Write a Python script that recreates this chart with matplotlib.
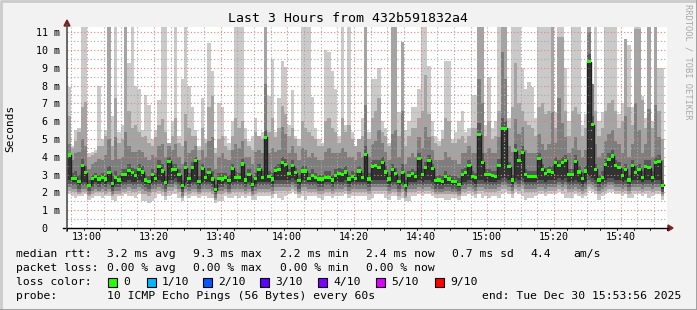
import numpy as np
import pandas as pd
import matplotlib
matplotlib.use("Agg")
import matplotlib.pyplot as plt
import matplotlib.dates as mdates
from matplotlib.ticker import MultipleLocator
from matplotlib.patches import Rectangle, Polygon

plt.rcParams['font.family'] = ['DejaVu Sans Mono', 'DejaVu Sans']

# time window (one column per minute)
first_step = "2025-12-30 12:54"
view_start = "2025-12-30 12:53:56"
view_end = "2025-12-30 15:53:56"

# median rtt in ms, one value per minute
median = [4.1, 2.8, 2.8, 2.6, 3.5, 3.1, 2.4, 2.8, 2.9, 2.75,
          2.85, 2.75, 3.1, 2.5, 2.85, 2.7, 3.0, 3.0, 3.25, 3.1,
          2.95, 3.3, 3.15, 2.7, 2.6, 3.0, 2.8, 3.45, 3.2, 2.55,
          3.75, 3.3, 3.3, 3.0, 2.4, 3.4, 2.8, 3.4, 3.8, 2.6,
          3.35, 2.85, 3.1, 2.75, 2.15, 2.8, 2.75, 2.85, 2.65, 3.35,
          2.85, 2.85, 3.6, 2.7, 3.0, 2.45, 2.8, 3.3, 2.85, 5.1,
          2.9, 2.75, 3.25, 3.3, 3.7, 3.55, 3.05, 3.5, 3.1, 2.65,
          3.2, 3.2, 2.8, 2.95, 2.85, 2.75, 2.75, 2.85, 2.85, 2.7,
          2.95, 3.05, 3.0, 3.15, 2.75, 2.9, 2.8, 3.2, 2.85, 4.15,
          2.75, 3.45, 3.5, 3.4, 3.7, 3.15, 2.75, 3.3, 3.05, 2.6,
          3.1, 2.4, 2.95, 3.05, 2.9, 3.9, 3.0, 3.4, 3.8, 3.35,
          2.65, 2.7, 2.6, 2.9, 2.75, 2.6, 2.6, 2.45, 3.0, 3.1,
          3.5, 2.9, 2.85, 5.25, 3.7, 3.0, 3.0, 2.95, 2.9, 3.5,
          5.6, 5.6, 3.45, 2.7, 4.35, 3.8, 4.25, 3.0, 2.9, 2.9,
          2.9, 3.9, 3.3, 3.05, 3.2, 3.1, 3.7, 3.5, 3.7, 3.8,
          3.0, 3.0, 3.75, 3.15, 2.8, 3.2, 9.35, 5.8, 3.3, 2.7,
          2.85, 3.55, 3.85, 4.05, 3.5, 3.4, 2.95, 3.3, 2.7, 3.5,
          3.1, 3.3, 2.85, 3.45, 3.4, 2.85, 3.7, 3.75, 2.4]

# sorted ping rtts (ms): ping1 = fastest ... ping10 = slowest
ping1 = [1.9, 1.8, 1.7, 1.8, 1.8, 1.9, 1.6, 1.7, 1.8, 1.8,
         1.7, 1.8, 1.8, 1.6, 1.5, 1.8, 1.8, 1.9, 1.8, 1.8,
         1.7, 1.9, 1.5, 1.5, 1.4, 1.5, 1.7, 1.9, 1.8, 1.6,
         1.8, 1.9, 1.9, 1.7, 1.5, 1.8, 1.7, 1.8, 1.8, 1.7,
         1.8, 1.8, 1.7, 1.7, 1.4, 1.5, 1.5, 1.8, 1.7, 1.7,
         1.8, 1.7, 1.8, 1.7, 1.8, 1.6, 1.6, 1.8, 1.8, 1.8,
         1.8, 1.7, 1.9, 1.7, 1.6, 1.8, 1.9, 2.0, 1.9, 1.7,
         1.8, 1.6, 1.8, 1.8, 1.8, 1.7, 1.6, 1.8, 1.8, 1.7,
         1.8, 1.8, 1.8, 1.9, 1.7, 1.8, 1.8, 1.8, 1.8, 1.8,
         1.6, 1.7, 1.9, 1.9, 1.9, 1.7, 1.6, 1.8, 1.8, 1.6,
         1.7, 1.5, 1.5, 1.8, 1.8, 1.9, 1.8, 1.9, 1.9, 1.8,
         1.7, 1.7, 1.7, 1.6, 1.6, 1.7, 1.7, 1.6, 1.8, 1.8,
         1.9, 1.8, 1.7, 1.9, 1.7, 1.8, 1.7, 1.8, 1.8, 1.7,
         1.9, 2.0, 1.9, 1.7, 2.0, 1.9, 1.8, 1.6, 1.7, 1.7,
         1.8, 1.9, 1.9, 1.8, 1.9, 1.9, 1.9, 2.0, 1.9, 1.7,
         1.7, 1.7, 1.9, 1.8, 1.7, 1.8, 2.1, 2.0, 1.9, 1.6,
         1.8, 1.9, 2.0, 2.0, 1.9, 1.9, 1.8, 1.9, 1.7, 1.7,
         1.9, 1.9, 1.8, 1.9, 1.7, 1.8, 1.9, 1.9, 1.6]
ping2 = [2.1, 2.0, 2.0, 1.9, 2.0, 2.0, 1.8, 1.9, 2.0, 2.0,
         2.0, 1.9, 2.0, 1.8, 1.9, 1.9, 2.0, 2.0, 2.1, 2.0,
         2.0, 2.1, 1.9, 1.9, 1.8, 2.0, 2.0, 2.1, 2.0, 1.8,
         2.1, 2.1, 2.2, 2.0, 1.7, 2.0, 1.9, 2.0, 2.0, 1.9,
         2.0, 2.0, 2.0, 1.9, 1.6, 1.9, 1.9, 2.0, 1.9, 2.0,
         2.0, 2.0, 2.0, 1.9, 2.0, 1.8, 1.9, 2.0, 2.0, 2.0,
         2.0, 1.9, 2.1, 2.1, 2.1, 2.1, 2.1, 2.2, 2.1, 1.9,
         2.1, 2.1, 2.0, 2.0, 2.0, 1.9, 1.9, 2.0, 2.0, 1.9,
         2.0, 2.0, 2.0, 2.1, 1.9, 2.0, 2.0, 2.0, 2.0, 2.0,
         1.9, 2.1, 2.1, 2.1, 2.1, 2.1, 1.9, 2.0, 2.0, 1.8,
         2.0, 1.7, 2.0, 2.0, 2.0, 2.1, 2.0, 2.1, 2.1, 2.0,
         1.9, 1.9, 1.9, 1.9, 1.9, 1.9, 1.9, 1.8, 2.0, 2.0,
         2.1, 2.0, 1.9, 2.1, 2.1, 2.0, 2.0, 2.0, 2.0, 2.1,
         2.2, 2.2, 2.1, 1.9, 2.2, 2.1, 2.2, 2.0, 2.0, 2.0,
         2.0, 2.1, 2.1, 2.0, 2.1, 2.1, 2.1, 2.2, 2.1, 2.2,
         2.0, 2.0, 2.1, 2.0, 1.9, 2.0, 2.3, 2.2, 2.1, 1.9,
         2.0, 2.1, 2.2, 2.2, 2.1, 2.1, 2.0, 2.1, 1.9, 2.1,
         2.1, 2.1, 2.0, 2.1, 2.1, 2.0, 2.1, 2.1, 1.8]
ping3 = [2.3, 2.2, 2.2, 2.0, 2.2, 2.2, 1.9, 2.1, 2.2, 2.1,
         2.2, 2.1, 2.2, 1.9, 2.1, 2.1, 2.2, 2.2, 2.3, 2.2,
         2.2, 2.3, 2.2, 2.1, 2.0, 2.2, 2.2, 2.3, 2.2, 2.0,
         2.3, 2.3, 2.4, 2.2, 1.8, 2.2, 2.1, 2.2, 2.2, 2.0,
         2.2, 2.2, 2.2, 2.1, 1.7, 2.1, 2.1, 2.2, 2.0, 2.2,
         2.2, 2.2, 2.2, 2.1, 2.2, 1.9, 2.1, 2.2, 2.2, 2.2,
         2.2, 2.1, 2.3, 2.3, 2.3, 2.3, 2.3, 2.4, 2.3, 2.0,
         2.3, 2.3, 2.2, 2.2, 2.2, 2.1, 2.1, 2.2, 2.2, 2.1,
         2.2, 2.2, 2.2, 2.3, 2.1, 2.2, 2.2, 2.2, 2.2, 2.2,
         2.1, 2.3, 2.3, 2.3, 2.3, 2.3, 2.1, 2.2, 2.2, 2.0,
         2.2, 1.8, 2.2, 2.2, 2.2, 2.3, 2.2, 2.3, 2.3, 2.2,
         2.0, 2.0, 2.0, 2.1, 2.1, 2.0, 2.0, 1.9, 2.2, 2.2,
         2.3, 2.2, 2.1, 2.3, 2.3, 2.2, 2.2, 2.2, 2.2, 2.3,
         2.4, 2.4, 2.3, 2.1, 2.4, 2.3, 2.4, 2.2, 2.2, 2.2,
         2.2, 2.3, 2.3, 2.2, 2.3, 2.3, 2.3, 2.4, 2.3, 2.4,
         2.2, 2.2, 2.3, 2.2, 2.1, 2.2, 2.5, 2.4, 2.3, 2.1,
         2.2, 2.3, 2.4, 2.4, 2.3, 2.3, 2.2, 2.3, 2.1, 2.3,
         2.3, 2.3, 2.2, 2.3, 2.3, 2.2, 2.3, 2.3, 1.9]
ping4 = [2.5, 2.4, 2.4, 2.2, 2.4, 2.4, 2.1, 2.3, 2.4, 2.3,
         2.4, 2.3, 2.4, 2.1, 2.3, 2.3, 2.4, 2.4, 2.5, 2.4,
         2.4, 2.5, 2.4, 2.3, 2.2, 2.4, 2.4, 2.5, 2.4, 2.2,
         2.5, 2.5, 2.6, 2.4, 2.0, 2.4, 2.3, 2.4, 2.4, 2.2,
         2.4, 2.4, 2.4, 2.3, 1.9, 2.3, 2.3, 2.4, 2.2, 2.4,
         2.4, 2.4, 2.4, 2.3, 2.4, 2.1, 2.3, 2.4, 2.4, 2.4,
         2.4, 2.3, 2.5, 2.5, 2.5, 2.5, 2.5, 2.6, 2.5, 2.2,
         2.5, 2.5, 2.4, 2.4, 2.4, 2.3, 2.3, 2.4, 2.4, 2.3,
         2.4, 2.4, 2.4, 2.5, 2.3, 2.4, 2.4, 2.4, 2.4, 2.4,
         2.3, 2.5, 2.5, 2.5, 2.5, 2.5, 2.3, 2.4, 2.4, 2.2,
         2.4, 2.0, 2.4, 2.4, 2.4, 2.5, 2.4, 2.5, 2.5, 2.4,
         2.2, 2.2, 2.2, 2.3, 2.3, 2.2, 2.2, 2.1, 2.4, 2.4,
         2.5, 2.4, 2.3, 2.5, 2.5, 2.4, 2.4, 2.4, 2.4, 2.5,
         2.6, 2.6, 2.5, 2.3, 2.6, 2.5, 2.6, 2.4, 2.4, 2.4,
         2.4, 2.5, 2.5, 2.4, 2.5, 2.5, 2.5, 2.6, 2.5, 2.6,
         2.4, 2.4, 2.5, 2.4, 2.3, 2.4, 2.7, 2.6, 2.5, 2.3,
         2.4, 2.5, 2.6, 2.6, 2.5, 2.5, 2.4, 2.5, 2.3, 2.5,
         2.5, 2.5, 2.4, 2.5, 2.5, 2.4, 2.5, 2.5, 2.0]
ping5 = [2.7, 2.6, 2.6, 2.4, 2.6, 2.6, 2.3, 2.5, 2.6, 2.5,
         2.6, 2.5, 2.6, 2.3, 2.5, 2.5, 2.6, 2.6, 2.7, 2.6,
         2.6, 2.7, 2.6, 2.5, 2.4, 2.6, 2.6, 2.7, 2.6, 2.4,
         2.7, 2.7, 2.8, 2.6, 2.2, 2.6, 2.5, 2.6, 2.6, 2.4,
         2.6, 2.6, 2.6, 2.5, 2.0, 2.5, 2.5, 2.6, 2.4, 2.6,
         2.6, 2.6, 2.6, 2.5, 2.6, 2.3, 2.5, 2.6, 2.6, 2.6,
         2.6, 2.5, 2.7, 2.7, 2.7, 2.7, 2.7, 2.8, 2.7, 2.4,
         2.7, 2.7, 2.6, 2.6, 2.6, 2.5, 2.5, 2.6, 2.6, 2.5,
         2.6, 2.6, 2.6, 2.7, 2.5, 2.6, 2.6, 2.6, 2.6, 2.6,
         2.5, 2.7, 2.7, 2.7, 2.7, 2.7, 2.5, 2.6, 2.6, 2.4,
         2.6, 2.2, 2.6, 2.6, 2.6, 2.7, 2.6, 2.7, 2.7, 2.6,
         2.4, 2.4, 2.4, 2.5, 2.5, 2.4, 2.4, 2.3, 2.6, 2.6,
         2.7, 2.6, 2.5, 2.7, 2.7, 2.6, 2.6, 2.6, 2.6, 2.7,
         2.8, 2.8, 2.7, 2.5, 2.8, 2.7, 2.8, 2.6, 2.6, 2.6,
         2.6, 2.7, 2.7, 2.6, 2.7, 2.7, 2.7, 2.8, 2.7, 2.8,
         2.6, 2.6, 2.7, 2.6, 2.5, 2.6, 2.9, 2.8, 2.7, 2.5,
         2.6, 2.7, 2.8, 2.8, 2.7, 2.7, 2.6, 2.7, 2.5, 2.7,
         2.7, 2.7, 2.6, 2.7, 2.7, 2.6, 2.7, 2.7, 2.2]
ping6 = median
ping7 = [4.2, 3.1, 3.2, 3.0, 3.9, 3.5, 2.7, 3.0, 3.1, 3.0,
         3.1, 3.0, 3.5, 2.9, 3.2, 3.0, 3.3, 3.3, 3.6, 3.4,
         3.3, 3.6, 3.5, 3.0, 2.9, 3.3, 3.1, 3.8, 3.6, 2.9,
         4.0, 3.6, 3.6, 3.3, 2.7, 3.7, 3.1, 3.7, 4.0, 2.9,
         3.6, 3.1, 3.4, 3.2, 2.5, 3.1, 3.1, 3.1, 3.0, 3.6,
         3.2, 3.1, 3.9, 3.0, 3.3, 2.8, 3.1, 3.6, 3.2, 5.5,
         3.2, 3.1, 3.5, 3.6, 4.0, 3.9, 3.3, 3.8, 3.4, 3.0,
         3.5, 3.5, 3.1, 3.3, 3.1, 3.0, 3.0, 3.2, 3.2, 3.0,
         3.3, 3.4, 3.3, 3.5, 3.0, 3.2, 3.1, 3.5, 3.1, 4.6,
         3.1, 3.8, 3.8, 3.8, 4.0, 3.5, 3.0, 3.6, 3.4, 2.9,
         3.6, 2.7, 3.2, 3.3, 3.2, 4.2, 3.3, 3.7, 4.1, 3.6,
         2.9, 3.0, 2.9, 3.2, 3.0, 2.9, 2.9, 2.8, 3.3, 3.4,
         3.8, 3.2, 3.1, 5.9, 4.2, 3.3, 3.3, 3.2, 3.2, 3.9,
         6.2, 6.0, 3.7, 3.0, 4.7, 4.1, 4.6, 3.3, 3.2, 3.2,
         3.2, 4.2, 3.6, 3.4, 3.5, 3.5, 4.0, 3.8, 4.0, 4.1,
         3.3, 3.3, 4.1, 3.5, 3.1, 3.5, 9.8, 6.3, 3.6, 3.0,
         3.2, 3.9, 4.2, 4.4, 3.8, 3.7, 3.3, 3.6, 3.0, 3.8,
         3.5, 3.6, 3.2, 3.8, 3.8, 3.2, 4.0, 4.1, 2.7]
ping8 = [4.7, 3.8, 4.2, 4.3, 5.0, 4.6, 3.3, 3.6, 3.7, 3.9,
         3.8, 4.1, 5.0, 3.8, 5.1, 3.9, 4.0, 5.4, 4.6, 4.3,
         4.3, 4.4, 4.3, 4.0, 3.8, 4.1, 4.0, 4.6, 4.7, 4.0,
         4.6, 4.4, 4.7, 4.0, 3.6, 4.9, 4.2, 4.4, 4.6, 3.8,
         4.4, 4.0, 4.9, 5.1, 3.3, 4.0, 4.2, 3.9, 3.8, 4.4,
         4.7, 4.5, 4.9, 4.0, 4.0, 3.6, 4.3, 4.4, 4.2, 8.1,
         4.2, 4.5, 4.3, 4.4, 5.7, 5.3, 4.2, 4.6, 4.2, 3.8,
         4.5, 4.4, 4.0, 4.2, 4.0, 3.8, 3.8, 4.3, 4.5, 4.2,
         4.2, 4.2, 4.5, 4.3, 4.0, 4.0, 3.8, 4.3, 4.0, 6.9,
         4.0, 4.7, 4.9, 5.5, 4.8, 4.3, 3.8, 5.3, 5.5, 4.0,
         6.6, 3.6, 4.0, 4.2, 4.0, 5.1, 4.5, 5.7, 5.1, 4.4,
         3.8, 3.8, 3.8, 4.3, 4.0, 3.8, 3.8, 3.6, 4.2, 4.2,
         4.6, 4.2, 4.2, 8.4, 7.0, 4.2, 4.5, 4.2, 4.2, 5.1,
         9.9, 8.4, 4.6, 4.3, 6.1, 5.3, 5.7, 4.4, 4.2, 4.2,
         4.2, 5.3, 4.7, 4.4, 4.7, 6.5, 4.8, 7.3, 5.9, 5.1,
         4.2, 4.5, 5.1, 4.4, 4.0, 4.4, 11.0, 8.1, 4.7, 4.0,
         4.2, 4.9, 5.3, 5.5, 4.9, 4.7, 4.2, 6.3, 4.0, 4.7,
         7.0, 5.5, 4.2, 4.7, 6.7, 4.0, 6.9, 5.1, 3.8]
ping9 = [6.3, 4.5, 4.9, 5.4, 6.8, 7.1, 4.0, 4.1, 4.2, 4.6,
         4.6, 5.2, 11.5, 4.6, 7.3, 4.8, 5.0, 11.5, 6.6, 5.6,
         5.8, 5.4, 5.1, 5.2, 4.8, 4.6, 5.1, 5.8, 6.1, 5.4,
         4.8, 5.2, 6.2, 4.8, 4.6, 6.4, 5.6, 5.2, 5.2, 4.4,
         5.6, 4.8, 6.8, 7.4, 4.2, 5.0, 5.2, 4.6, 4.4, 5.2,
         6.2, 5.6, 6.0, 5.0, 4.6, 4.4, 5.4, 5.2, 5.0, 11.5,
         5.4, 6.2, 5.1, 5.6, 6.85, 6.4, 5.2, 5.6, 5.0, 4.6,
         6.0, 5.6, 5.4, 5.2, 5.0, 4.6, 4.6, 6.0, 6.2, 5.6,
         5.4, 4.8, 6.2, 5.4, 5.8, 5.0, 4.6, 5.0, 5.2, 11.5,
         5.0, 6.2, 6.6, 7.3, 5.4, 5.2, 4.6, 11.5, 11.5, 5.2,
         10.45, 4.6, 5.2, 5.6, 5.6, 6.2, 6.6, 8.6, 6.4, 5.2,
         4.8, 4.6, 5.0, 6.2, 6.0, 4.8, 4.8, 5.0, 5.2, 4.8,
         5.2, 5.6, 5.6, 11.5, 11.5, 5.2, 6.0, 5.0, 5.2, 6.6,
         11.5, 11.5, 5.6, 6.8, 9.3, 7.0, 6.6, 6.0, 5.8, 5.6,
         5.2, 6.8, 7.0, 6.4, 6.6, 11.5, 5.6, 10.75, 10.75, 6.6,
         5.2, 6.6, 6.8, 6.4, 5.2, 5.6, 11.5, 7.0, 6.6, 5.2,
         5.6, 6.6, 7.0, 7.2, 6.6, 5.6, 6.0, 10.6, 6.8, 5.8,
         11.2, 11.2, 7.2, 5.6, 11.5, 5.6, 11.5, 6.6, 5.0]
ping10 = [7.9, 4.6, 5.5, 5.6, 11.5, 11.5, 4.2, 4.3, 4.4, 8.0,
          5.0, 5.5, 11.5, 6.3, 11.5, 5.4, 5.8, 11.5, 9.3, 11.5,
          8.0, 7.8, 5.5, 7.5, 6.9, 5.0, 5.5, 7.2, 11.5, 11.5,
          4.8, 6.0, 11.5, 5.2, 8.4, 11.5, 8.0, 6.8, 5.5, 4.6,
          7.3, 5.0, 10.4, 8.85, 4.5, 7.0, 6.8, 5.2, 4.8, 6.0,
          11.5, 11.5, 11.5, 5.6, 4.9, 5.2, 6.2, 5.2, 5.4, 11.5,
          7.4, 9.5, 5.4, 7.3, 9.4, 9.05, 5.8, 7.75, 5.2, 5.0,
          11.5, 11.5, 11.5, 7.35, 5.6, 5.0, 4.8, 10.0, 9.9, 8.8,
          7.8, 5.2, 11.5, 5.8, 11.5, 5.4, 4.6, 5.0, 6.2, 11.5,
          5.4, 8.4, 8.4, 9.0, 6.0, 5.6, 4.8, 11.5, 11.5, 6.5,
          10.45, 5.5, 6.0, 6.8, 6.8, 7.8, 11.5, 11.5, 9.1, 6.0,
          5.2, 4.9, 5.5, 9.4, 9.4, 5.0, 5.4, 6.0, 6.6, 5.4,
          5.6, 7.5, 7.5, 11.5, 11.5, 5.8, 8.5, 5.6, 6.0, 11.5,
          11.5, 11.5, 6.2, 11.5, 11.5, 11.5, 9.0, 7.8, 8.2, 7.9,
          6.2, 11.5, 11.5, 11.5, 11.5, 11.5, 6.5, 11.5, 11.5, 9.0,
          6.0, 11.5, 11.5, 11.5, 5.8, 6.4, 11.5, 7.0, 11.5, 6.0,
          6.5, 11.5, 11.5, 11.5, 11.5, 6.4, 7.0, 10.6, 10.3, 6.8,
          11.5, 11.5, 7.4, 6.2, 11.5, 6.0, 11.5, 9.0, 9.0]

y_ticks = [0, 1, 2, 3, 4, 5, 6, 7, 8, 9, 10, 11]
y_labels = ["0  ", "1 m", "2 m", "3 m", "4 m", "5 m", "6 m", "7 m", "8 m",
            "9 m", "10 m", "11 m"]

stats_rtt = ["3.2 ms avg", "9.3 ms max", "2.2 ms min", "2.4 ms now", "0.7 ms sd", "4.4", "am/s"]
stats_loss = ["0.00 % avg", "0.00 % max", "0.00 % min", "0.00 % now"]
loss_names = ["0", "1/10", "2/10", "3/10", "4/10", "5/10", "9/10"]
loss_colors = ["#26ff00", "#00b8ff", "#0059ff", "#5e00ff", "#7e00ff", "#dd00ff", "#ff0000"]

W, H = 697, 310
fig = plt.figure(figsize=(W / 100, H / 100), dpi=100)
fig.patch.set_facecolor("#f2f2f2")

# plot area in pixels: x 67..667, y 27..228
ax = fig.add_axes([67 / W, (H - 228) / H, 600 / W, 201 / H])
ax.set_facecolor("white")

edges = mdates.date2num(pd.date_range(first_step, periods=len(median) + 1, freq="min"))


def ext(a):
    a = np.asarray(a, dtype=float)
    return np.append(a, a[-1])


bands = [(ping1, ping10, "#cacaca"), (ping2, ping9, "#a4a4a4"),
         (ping3, ping8, "#7e7e7e"), (ping4, ping7, "#585858"),
         (ping5, ping6, "#323232")]
for lo, hi, col in bands:
    ax.fill_between(edges, ext(lo), ext(hi), step="post", color=col, lw=0, zorder=1)

# grid on top of the smoke
ax.xaxis.set_major_locator(mdates.MinuteLocator(byminute=[0, 20, 40]))
ax.xaxis.set_minor_locator(mdates.MinuteLocator(byminute=range(0, 60, 5)))
ax.xaxis.set_major_formatter(mdates.DateFormatter("%H:%M"))
ax.yaxis.set_minor_locator(MultipleLocator(0.5))
ax.set_yticks(y_ticks)
ax.set_yticklabels(y_labels)
ax.set_axisbelow(False)
ax.grid(which="minor", color="#a8a8a8", lw=0.8, ls=(0, (1, 2)), zorder=2)
ax.grid(which="major", color="#e88080", lw=0.8, ls=(0, (1, 2)), zorder=2)

# median: dark step line and green loss marks
ax.step(edges, ext(median), where="post", color="#202020", lw=1, zorder=3)
ax.fill_between(edges, ext(median) - 0.09, ext(median) + 0.09, step="post",
                color=loss_colors[0], lw=0, zorder=4)

ax.set_xlim(mdates.datestr2num(view_start), mdates.datestr2num(view_end))
ax.set_ylim(0, 11.3)
for s in ax.spines.values():
    s.set_visible(False)
ax.tick_params(axis="both", which="both", length=0, labelsize=7.2)
ax.tick_params(axis="x", pad=3)
ax.tick_params(axis="y", pad=5)

# overlay in pixel coordinates for frame, axes arrows and legend
ov = fig.add_axes([0, 0, 1, 1], facecolor="none")
ov.set_xlim(0, W)
ov.set_ylim(H, 0)
ov.axis("off")
ov.plot([0.5, 0.5, W - 0.5], [H - 0.5, 0.5, 0.5], color="#cbcbcb", lw=2)
ov.plot([0.5, W - 0.5, W - 0.5], [H - 0.5, H - 0.5, 0.5], color="#999999", lw=2)
ov.plot([63, 668], [228, 228], color="black", lw=1)
ov.plot([67, 67], [231, 25], color="#505050", lw=1.2)
ov.add_patch(Polygon([[668, 225], [673, 228], [668, 231]], color="#7f1f1f"))
ov.add_patch(Polygon([[64, 26], [67, 20], [70, 26]], color="#7f1f1f"))
for xx in np.arange(67, 668, 600 / 36):
    ov.plot([xx, xx], [228, 230], color="black", lw=0.6)

ov.text(348, 18, "Last 3 Hours from 432b591832a4", fontsize=9.5, ha="center", va="center")
ov.text(10, 128, "Seconds", fontsize=8, rotation=90, ha="center", va="center")
ov.text(688, 4, "RRDTOOL / TOBI OETIKER", fontsize=6.3, rotation=270,
        ha="center", va="top", color="#a8a8a8")

fs = 8.2
rows = [254, 268, 282, 296]
ov.text(16, rows[0], "median rtt:", fontsize=fs, va="center")
for xx, s in zip([107, 193, 280, 366, 452, 530, 573], stats_rtt):
    ov.text(xx, rows[0], s, fontsize=fs, va="center")
ov.text(16, rows[1], "packet loss:", fontsize=fs, va="center")
for xx, s in zip([107, 193, 280, 366], stats_loss):
    ov.text(xx, rows[1], s, fontsize=fs, va="center")
ov.text(16, rows[2], "loss color:", fontsize=fs, va="center")
for xx, s, c in zip([108, 147, 203, 260, 318, 376, 435], loss_names, loss_colors):
    ov.add_patch(Rectangle((xx, rows[2] - 4.5), 9, 9, facecolor=c, edgecolor="black", lw=0.8))
    ov.text(xx + 15, rows[2], s, fontsize=fs, va="center")
ov.text(16, rows[3], "probe:", fontsize=fs, va="center")
ov.text(107, rows[3], "10 ICMP Echo Pings (56 Bytes) every 60s", fontsize=fs, va="center")
ov.text(681, rows[3], "end: Tue Dec 30 15:53:56 2025", fontsize=fs, va="center", ha="right")

fig.savefig("out.png", dpi=100, facecolor=fig.get_facecolor())
